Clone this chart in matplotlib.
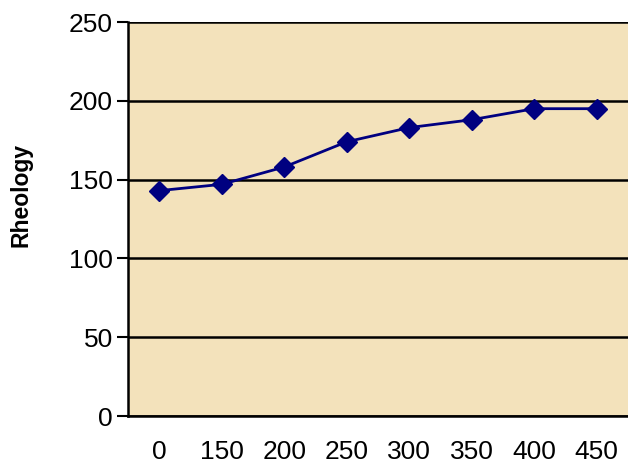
import matplotlib.pyplot as plt
import numpy as np

categories = ['0', '150', '200', '250', '300', '350', '400', '450']
rheology = [143, 147, 158, 174, 183, 188, 195, 195]

plt.rcParams['font.family'] = ['Liberation Sans', 'DejaVu Sans']

fig = plt.figure(figsize=(6.28, 4.68), dpi=100)
ax = fig.add_axes([128/628, 1 - 416/468, 1 - 128/628, (416 - 22)/468])
ax.set_facecolor('#f3e2bb')

x = np.arange(len(categories))
ax.plot(x, rheology, color='#000080', linewidth=2, marker='D', markersize=10,
        markerfacecolor='#000080', markeredgecolor='#000080', zorder=3)

ax.set_xlim(-0.5, len(categories) - 0.5)
ax.set_ylim(0, 250)
ax.set_yticks(range(0, 251, 50))
ax.set_xticks(x)
ax.set_xticklabels(categories)

ax.yaxis.grid(True, color='black', linewidth=1.8)
ax.set_axisbelow(True)
for side in ['top', 'right']:
    ax.spines[side].set_visible(False)
for side in ['left', 'bottom']:
    ax.spines[side].set_linewidth(1.8)
    ax.spines[side].set_color('black')

ax.tick_params(axis='y', length=8, width=1.5, labelsize=19, pad=3)
ax.tick_params(axis='x', length=0, labelsize=19, pad=17)

ax.set_ylabel('Rheology', fontsize=16.5, fontweight='bold')
ax.yaxis.set_label_coords(-0.19, 0.56)

plt.savefig('out.png', dpi=100)
